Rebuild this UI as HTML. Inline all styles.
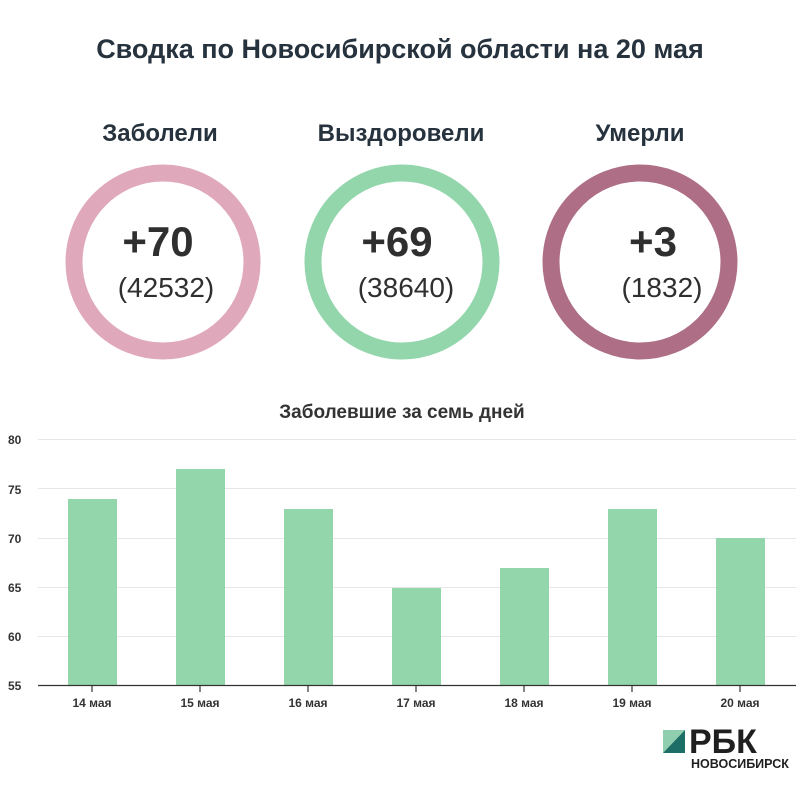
<!DOCTYPE html>
<html><head><meta charset="utf-8"><style>
body{margin:0;background:#fff;}
svg text{font-family:"Liberation Sans",sans-serif;}
</style></head><body>
<svg width="800" height="800" viewBox="0 0 800 800" xmlns="http://www.w3.org/2000/svg">
<rect width="800" height="800" fill="#fff"/>
<text x="400" y="58" text-anchor="middle" font-size="27" font-weight="bold" fill="#26323d">Сводка по Новосибирской области на 20 мая</text>
<g font-size="24" font-weight="bold" fill="#26323d" text-anchor="middle">
<text x="160" y="141">Заболели</text>
<text x="401" y="141">Выздоровели</text>
<text x="640" y="141">Умерли</text>
</g>
<circle cx="163" cy="262" r="89" fill="none" stroke="#e0a9bb" stroke-width="17"/>
<circle cx="402" cy="262" r="89" fill="none" stroke="#93d6ac" stroke-width="17"/>
<circle cx="640" cy="262" r="89" fill="none" stroke="#ae6f86" stroke-width="17"/>
<g text-anchor="middle" fill="#2f2f2f">
<text x="158" y="256" font-size="42" font-weight="bold">+70</text>
<text x="166" y="297" font-size="28">(42532)</text>
<text x="397" y="256" font-size="42" font-weight="bold">+69</text>
<text x="406" y="297" font-size="28">(38640)</text>
<text x="653" y="256" font-size="42" font-weight="bold">+3</text>
<text x="662" y="297" font-size="28">(1832)</text>
</g>
<text x="402" y="418" text-anchor="middle" font-size="19" font-weight="bold" fill="#333">Заболевшие за семь дней</text>
<g stroke="#e6e6e6" stroke-width="1">
<line x1="38" x2="796" y1="439.5" y2="439.5"/>
<line x1="38" x2="796" y1="488.5" y2="488.5"/>
<line x1="38" x2="796" y1="538.5" y2="538.5"/>
<line x1="38" x2="796" y1="587.5" y2="587.5"/>
<line x1="38" x2="796" y1="636.5" y2="636.5"/>
</g>
<g font-size="12" font-weight="bold" fill="#333">
<text x="8" y="444">80</text><text x="8" y="494">75</text><text x="8" y="543">70</text>
<text x="8" y="592">65</text><text x="8" y="641">60</text><text x="8" y="690">55</text>
</g>
<g fill="#93d6ac">
<rect x="68" y="499" width="49" height="186"/>
<rect x="176" y="469" width="49" height="216"/>
<rect x="284" y="509" width="49" height="176"/>
<rect x="392" y="588" width="49" height="97"/>
<rect x="500" y="568" width="49" height="117"/>
<rect x="608" y="509" width="49" height="176"/>
<rect x="716" y="538" width="49" height="147"/>
</g>
<line x1="38" x2="796" y1="685.5" y2="685.5" stroke="#333" stroke-width="1.2"/>
<g stroke="#333" stroke-width="1.2">
<line x1="92" x2="92" y1="685" y2="692"/><line x1="200" x2="200" y1="685" y2="692"/>
<line x1="308" x2="308" y1="685" y2="692"/><line x1="416" x2="416" y1="685" y2="692"/>
<line x1="524" x2="524" y1="685" y2="692"/><line x1="632" x2="632" y1="685" y2="692"/>
<line x1="740" x2="740" y1="685" y2="692"/>
</g>
<g font-size="12" font-weight="bold" fill="#333" text-anchor="middle">
<text x="92" y="707">14 мая</text><text x="200" y="707">15 мая</text><text x="308" y="707">16 мая</text>
<text x="416" y="707">17 мая</text><text x="524" y="707">18 мая</text><text x="632" y="707">19 мая</text>
<text x="740" y="707">20 мая</text>
</g>
<polygon points="663,730 685,730 663,753" fill="#8fcfb0"/>
<polygon points="685,730 685,753 663,753" fill="#1c6e66"/>
<text x="689" y="753" font-size="34" font-weight="bold" fill="#1f1f1f">РБК</text>
<text x="691" y="768" font-size="12.5" font-weight="bold" fill="#1f1f1f">НОВОСИБИРСК</text>
</svg>
</body></html>
